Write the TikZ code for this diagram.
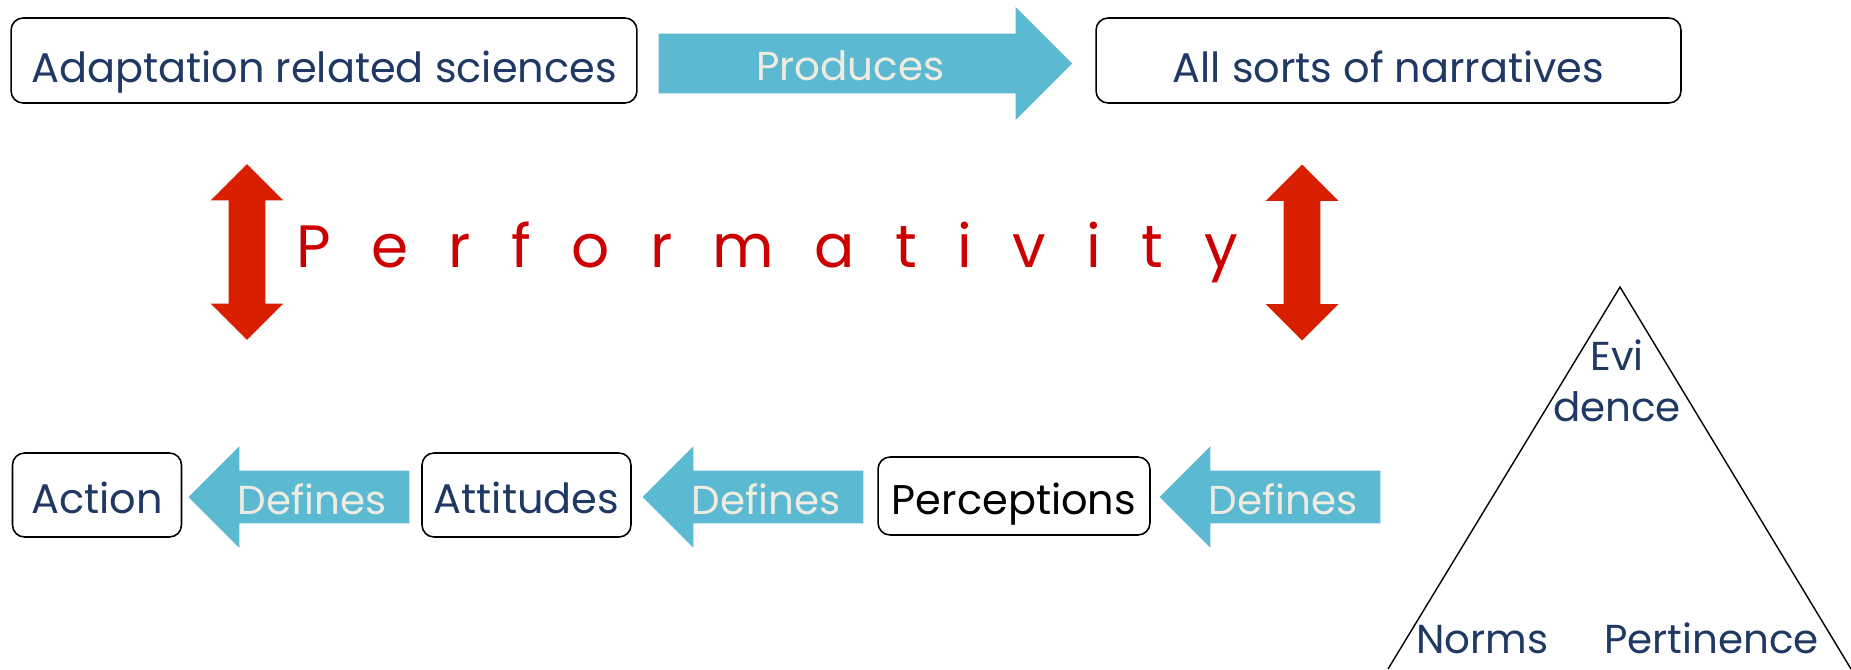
\documentclass[tikz,border=0pt]{standalone}
\usepackage{fontspec}
\setmainfont{Poppins}
\usetikzlibrary{shapes.arrows}

\definecolor{navytext}{RGB}{31,56,100}
\definecolor{arrowblue}{RGB}{91,185,209}
\definecolor{creamtext}{RGB}{238,236,225}
\definecolor{perfred}{RGB}{216,32,0}
\definecolor{perftext}{RGB}{204,0,0}

\begin{document}
\begin{tikzpicture}[x=0.02cm, y=-0.02cm,
    box/.style={draw=black, line width=0.9pt, rounded corners=0.24cm, text=navytext,
        font=\fontsize{23.6}{28}\selectfont, text height=0.72cm, text depth=0pt, inner sep=0pt},
    flowarrow/.style={single arrow, fill=arrowblue, text=creamtext, inner xsep=0pt,
        font=\fontsize{23}{28}\selectfont, text height=0.7cm, text depth=0pt,
        single arrow tip angle=90, anchor=tip},
    perfarrow/.style={double arrow, fill=perfred, minimum height=3.52cm,
        inner xsep=0pt, inner ysep=0.36cm, double arrow head extend=0.36cm,
        double arrow tip angle=90, rotate=90},
    trilabel/.style={text=navytext, font=\fontsize{23}{29}\selectfont, inner sep=0pt}
]

    % Frame of the picture
    \useasboundingbox (0,0) rectangle (1851,669);

    % Top row: sciences produce narratives
    \node[box, text height=0.88cm, minimum width=12.52cm, minimum height=1.70cm] (ars) at (324,60.5) {Adaptation related sciences};
    \node[box, text height=0.88cm, minimum width=11.70cm, minimum height=1.70cm] (narr) at (1388.5,60.5) {All sorts of narratives};
    \node[flowarrow, minimum height=8.27cm, inner ysep=0.24cm, single arrow head extend=0.53cm] (prod) at (1072.5,63.5) {Produces};

    % Performativity between the two rows
    \node[perfarrow] (perfL) at (247,252) {};
    \node[perfarrow] (perfR) at (1302,252.5) {};
    \node[text=perftext, font=\fontsize{34}{40}\selectfont, anchor=base, inner sep=0pt] (perf) at (767,267)
        {\spaceskip=23pt P e r f o r m a t i v i t y};

    % Bottom row: each one defines the next
    \node[box, minimum width=3.38cm, minimum height=1.68cm] (act) at (97,495) {Action};
    \node[box, minimum width=4.18cm, minimum height=1.68cm] (att) at (526.5,495) {Attitudes};
    \node[box, text=black, minimum width=5.44cm, minimum height=1.56cm] (perc) at (1014,496) {Perceptions};

    \foreach \tipx/\name in {188/defA, 642/defB, 1159/defC} {
        \node[flowarrow, shape border rotate=180, minimum height=4.42cm, inner ysep=0.17cm,
            single arrow head extend=0.49cm] (\name) at (\tipx,497) {Defines};
    }

    % Triangle
    \coordinate (apex) at (1620,287);
    \coordinate (baseL) at (1388,669);
    \coordinate (baseR) at (1851,669);
    \draw[line width=0.8pt] (baseL) -- (apex) -- (baseR);

    \node[trilabel, align=center] (evid) at (1617,381) {Evi\\dence};
    \node[trilabel, anchor=base] (norms) at (1482.5,653) {Norms};
    \node[trilabel, anchor=base] (pert) at (1711.5,653) {Pertinence};

\end{tikzpicture}
\end{document}
